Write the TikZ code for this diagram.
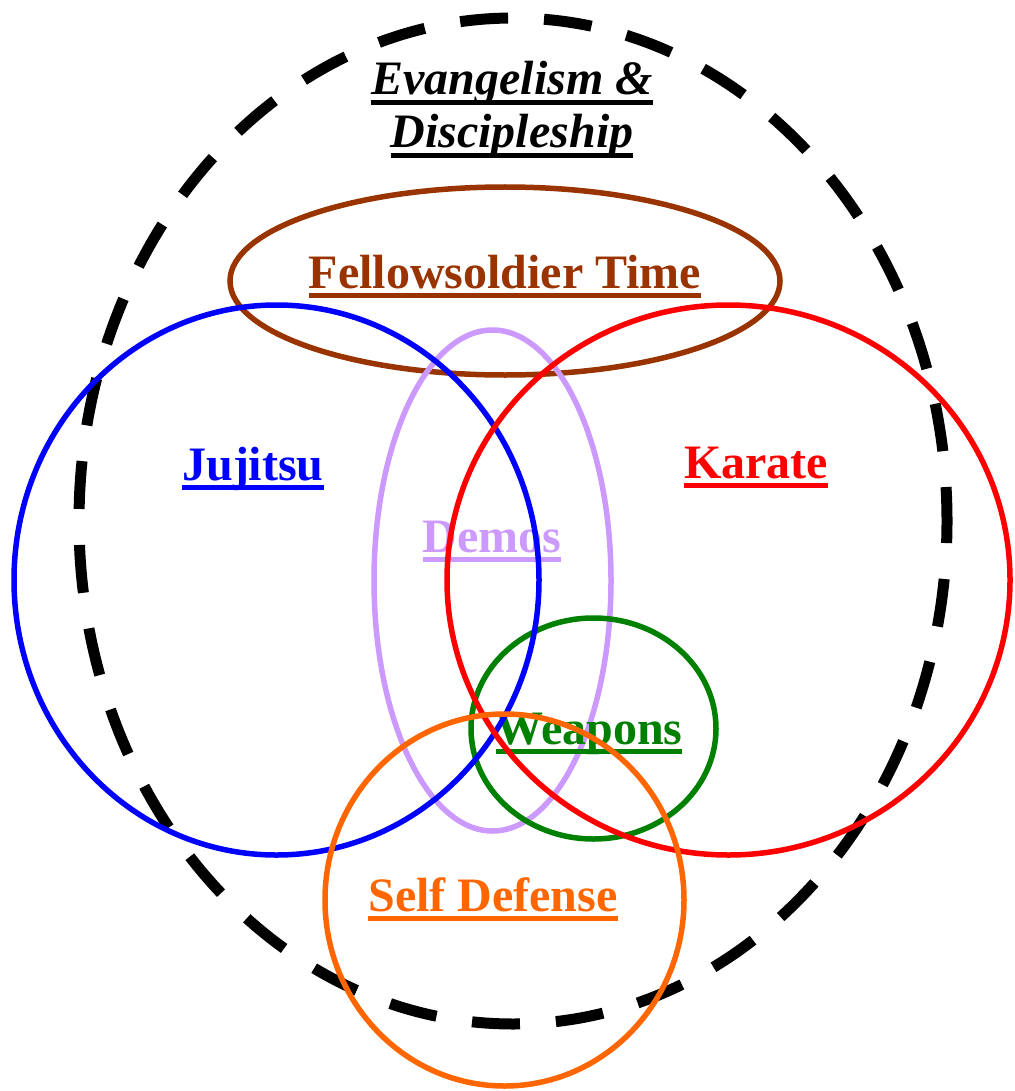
\documentclass[tikz,border=0pt]{standalone}
\usepackage{fontspec}
\setmainfont{Liberation Serif}
\usepackage{tikz}
\definecolor{fellowbrown}{RGB}{153,51,0}
\definecolor{demoslilac}{RGB}{204,153,255}
\definecolor{weapongreen}{RGB}{0,128,0}
\definecolor{defenseorange}{RGB}{255,102,0}
\newcommand{\ulbar}[1]{\setbox0\hbox{#1}\rlap{\vrule height -5pt depth 10pt width \wd0}\box0}

\begin{document}
\begin{tikzpicture}[x=1pt,y=-1pt,
    lbl/.style={font=\fontsize{48}{54}\selectfont\bfseries, anchor=base, inner sep=0pt},
    ring/.style={line width=5.5pt}]
            \useasboundingbox (0,0) rectangle (1014,1091);
            \draw[line width=11pt, dash pattern=on 48pt off 36pt, dash phase=14pt] (513,521) ellipse (434pt and 503pt);
            \node[lbl, font=\fontsize{48}{54}\selectfont\bfseries\itshape] (evang) at (512,95) {\ulbar{Evangelism \&}};
            \node[lbl, font=\fontsize{48}{54}\selectfont\bfseries\itshape] (disc) at (512,148) {\ulbar{Discipleship}};
            \draw[ring, fellowbrown] (505,281) ellipse (275pt and 94pt);
            \node[lbl, fellowbrown] (fellow) at (505,288) {\ulbar{Fellowsoldier Time}};
            \draw[ring, demoslilac] (492.5,580.5) ellipse (118.5pt and 250.5pt);
            \node[lbl, demoslilac] (demos) at (492,552) {\ulbar{Demos}};
            \draw[ring, weapongreen] (593.5,728.5) ellipse (122.5pt and 110.5pt);
            \node[lbl, weapongreen] (weapons) at (589,744) {\ulbar{Weapons}};
            \draw[ring, blue] (276.5,580) ellipse (262.5pt and 275pt);
            \node[lbl, blue] (jujitsu) at (253,480) {\ulbar{Jujitsu}};
            \draw[ring, red] (728.5,580) ellipse (281.5pt and 275pt);
            \node[lbl, red] (karate) at (756,478) {\ulbar{Karate}};
            \draw[ring, defenseorange] (504.5,900) ellipse (179.5pt and 186pt);
            \node[lbl, defenseorange] (selfdef) at (493,911) {\ulbar{Self Defense}};
\end{tikzpicture}
\end{document}
